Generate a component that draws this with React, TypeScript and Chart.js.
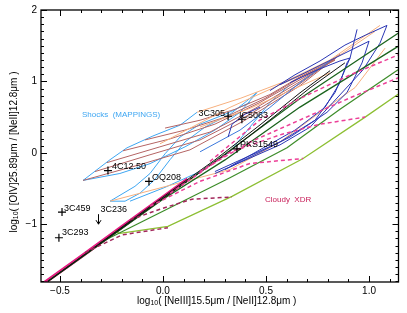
import React, { useEffect, useRef } from "react";
import { Chart, registerables } from "chart.js";

Chart.register(...registerables);

type Pt = [number, number];

// ---------- axes ----------
const X_MIN = -0.592;
const X_MAX = 1.143;
const Y_MIN = -1.81;
const Y_MAX = 2.0;
const xTickValues = [-0.5, 0, 0.5, 1.0];
const xTickLabels = ["\u22120.5", "0.0", "0.5", "1.0"];
const yTickValues = [-1, 0, 1, 2];
const yTickLabels = ["\u22121", "0", "1", "2"];
const minorStep = 0.1;

// ---------- Shock models (MAPPINGS) ----------
const shockCyan1: Pt[] = [[-0.388, -0.387], [-0.257, -0.097], [-0.175, 0.069], [-0.049, 0.235], [0.083, 0.387], [0.165, 0.567]];
const shockCyan2: Pt[] = [[-0.388, -0.387], [-0.209, -0.29], [-0.063, -0.152], [0.107, 0.083], [0.252, 0.318], [0.374, 0.567], [0.456, 0.844]];
const shockCyan3: Pt[] = [[0.456, 0.844], [0.398, 0.705], [0.325, 0.539], [0.204, 0.36], [0.107, 0.152], [0.034, -0.097], [-0.039, -0.373], [-0.112, -0.567], [-0.184, -0.678], [-0.257, -0.678]];
const shockCyan4: Pt[] = [[-0.257, -0.678], [-0.136, -0.47], [-0.063, -0.29], [0.01, -0.014], [0.083, 0.221], [0.18, 0.401], [0.301, 0.539], [0.422, 0.705]];
const shockCyan5: Pt[] = [[-0.16, -0.678], [0.01, -0.484], [0.18, -0.263], [0.325, 0.014], [0.422, 0.36], [0.519, 0.705], [0.617, 0.954]];

const shockBrown1: Pt[] = [[-0.388, -0.387], [-0.112, -0.166], [0.131, 0.041], [0.398, 0.456], [0.665, 0.94], [0.859, 1.38]];
const shockBrown2: Pt[] = [[-0.33, -0.263], [-0.063, -0.028], [0.18, 0.18], [0.422, 0.539], [0.665, 0.968], [0.85, 1.36]];
const shockBrown3: Pt[] = [[-0.272, -0.138], [-0.015, 0.083], [0.228, 0.29], [0.447, 0.622], [0.665, 0.996], [0.84, 1.33]];
const shockBrown4: Pt[] = [[-0.194, 0.028], [0.034, 0.194], [0.252, 0.401], [0.471, 0.705], [0.665, 1.024], [0.835, 1.3]];
const shockBrown5: Pt[] = [[-0.087, 0.18], [0.107, 0.318], [0.301, 0.498], [0.495, 0.761], [0.665, 1.051], [0.835, 1.3]];
const shockBrown6: Pt[] = [[0.01, 0.346], [0.18, 0.456], [0.35, 0.609], [0.519, 0.816], [0.665, 1.065], [0.835, 1.314]];

const shockOrange1: Pt[] = [[0.165, 0.567], [0.374, 0.761], [0.602, 1.01], [0.811, 1.3], [1.053, 1.784]];
const shockOrange2: Pt[] = [[-0.015, 0.125], [0.325, 0.636], [0.665, 1.079], [0.859, 1.369], [1.029, 1.701]];
const shockOrange3: Pt[] = [[-0.257, -0.678], [0.034, -0.456], [0.325, -0.235], [0.568, 0.152], [0.762, 0.567], [0.932, 0.913], [1.078, 1.466]];
const shockOrange4: Pt[] = [[0.18, 0.36], [0.422, 0.622], [0.617, 0.871], [0.811, 1.12]];

const shockMidBlue: Pt[] = [[0.18, 0.014], [0.374, 0.318], [0.519, 0.636], [0.665, 0.982], [0.811, 1.286]];

const shockBlue1: Pt[] = [[0.252, -0.263], [0.568, 0.152], [0.738, 0.456], [0.835, 0.844], [0.908, 1.328], [0.942, 1.729]];
const shockBlue2: Pt[] = [[0.252, -0.29], [0.568, 0.111], [0.714, 0.359], [0.825, 0.705], [0.971, 1.162], [1.053, 1.535], [1.087, 1.784], [0.981, 1.646], [0.883, 1.508], [0.762, 1.286], [0.641, 1.093], [0.519, 0.871]];
const shockBlue3: Pt[] = [[0.301, -0.235], [0.617, 0.221], [0.796, 0.567], [0.893, 0.844], [0.966, 1.259], [1.0, 1.563], [0.932, 1.466], [0.835, 1.328], [0.689, 1.12], [0.568, 0.954]];
const shockBlue4: Pt[] = [[0.325, -0.194], [0.641, 0.318], [0.786, 0.636], [0.859, 0.982], [0.893, 1.259], [0.908, 1.328], [0.859, 1.286], [0.738, 1.148], [0.617, 0.982]];
const shockBlue5: Pt[] = [[0.316, 0.22], [0.335, 0.4], [0.398, 0.54], [0.471, 0.64]];

// ---------- Cloudy XDR / photoionization ----------
const trunk: Pt[] = [[-0.575, -1.82], [-0.4, -1.46], [-0.2, -1.04], [0.0, -0.62], [0.12, -0.37]];
const darkGreen1: Pt[] = [[-0.558, -1.8], [0.0, -0.64], [0.277, -0.07], [0.665, 0.76], [1.141, 1.674]];
const darkGreen2: Pt[] = [[-0.558, -1.8], [0.0, -0.65], [0.301, -0.1], [0.665, 0.64], [1.141, 1.49]];
const blackLine1: Pt[] = [[-0.558, -1.8], [0.0, -0.62], [0.252, -0.1], [0.471, 0.39], [0.665, 0.84], [0.811, 1.15]];
const blackLine2: Pt[] = [[-0.558, -1.8], [0.0, -0.64], [0.301, -0.03], [0.519, 0.46], [0.714, 0.91], [0.883, 1.26]];
const greenLine: Pt[] = [[-0.306, -1.26], [-0.015, -0.84], [0.325, -0.35], [0.602, 0.07], [0.859, 0.61], [1.141, 1.162]];
const yellowGreen: Pt[] = [[-0.235, -1.1], [-0.209, -1.13], [0.024, -1.03], [0.335, -0.61], [0.68, -0.08], [0.981, 0.5], [1.141, 0.82]];
const xdrDash1: Pt[] = [[-0.379, -1.4], [-0.199, -1.15], [0.024, -1.05]];
const xdrDash2: Pt[] = [[-0.16, -0.94], [-0.015, -0.79], [0.141, -0.65], [0.335, -0.62]];
const xdrDash3: Pt[] = [[-0.063, -0.75], [0.18, -0.4], [0.422, -0.15], [0.68, -0.08]];
const xdrDash4: Pt[] = [[0.034, -0.57], [0.325, 0.01], [0.578, 0.26], [0.762, 0.4], [0.981, 0.5]];
const xdrDash5: Pt[] = [[0.18, -0.26], [0.422, 0.15], [0.665, 0.46], [0.908, 0.77], [1.141, 1.05]];
const xdrDash6: Pt[] = [[0.228, -0.12], [0.471, 0.46], [0.665, 0.76], [0.908, 1.09], [1.141, 1.37]];

// ---------- observed sources ----------
const sourceNames = ["3C305", "IC5063", "PKS1549", "4C12.50", "OQ208", "3C459", "3C293"];
const sourceX = [0.316, 0.383, 0.359, -0.267, -0.068, -0.49, -0.505];
const sourceY = [0.512, 0.47, 0.055, -0.249, -0.401, -0.83, -1.19];
const limitName = "3C236";
const limitX = -0.316;
const limitYTop = -0.86;
const limitYBottom = -1.0;

// ---------- annotations ----------
const shocksText = "Shocks  (MAPPINGS)";
const shocksPos: Pt = [-0.393, 0.539];
const xdrText = "Cloudy  XDR";
const xdrPos: Pt = [0.495, -0.664];

// ---------- styles ----------
const FONT = "'Liberation Sans', Arial, sans-serif";
const labelStyle = [
  { dx: -3, dy: -3, align: "right" },
  { dx: -3, dy: -4, align: "left" },
  { dx: 3, dy: -4, align: "left" },
  { dx: 4, dy: -4, align: "left" },
  { dx: 3, dy: -4, align: "left" },
  { dx: 2, dy: -4, align: "left" },
  { dx: 3, dy: -5, align: "left" },
];

const C = {
  cyan: "#3ea6f2",
  brown: "#b46464",
  orange: "#f7b07e",
  midBlue: "#3b78dc",
  blue: "#2a36b4",
  darkGreen: "#1c641e",
  black: "#141414",
  green: "#3f8e2c",
  yellowGreen: "#8dbf33",
  pink: "#ec3f97",
  maroon: "#a3285c",
  magenta: "#e41b80",
};

function line(points: Pt[], color: string, width = 1, dash: number[] = []) {
  return {
    data: points.map(([x, y]) => ({ x, y })),
    borderColor: color,
    borderWidth: width,
    borderDash: dash,
    pointRadius: 0,
    fill: false,
    tension: 0,
    showLine: true,
  };
}

function drawLogText(ctx: CanvasRenderingContext2D, rest: string, cx: number, cy: number, size: number) {
  const main = `${size}px ${FONT}`;
  const sub = `${Math.round(size * 0.7)}px ${FONT}`;
  ctx.font = main;
  const w1 = ctx.measureText("log").width;
  const w3 = ctx.measureText(rest).width;
  ctx.font = sub;
  const w2 = ctx.measureText("10").width;
  let x = cx - (w1 + w2 + w3) / 2;
  ctx.textAlign = "left";
  ctx.textBaseline = "middle";
  ctx.font = main;
  ctx.fillText("log", x, cy);
  x += w1;
  ctx.font = sub;
  ctx.fillText("10", x, cy + 2.5);
  x += w2;
  ctx.font = main;
  ctx.fillText(rest, x, cy);
}

const overlay = {
  id: "overlay",
  afterDatasetsDraw(chart: any) {
    const { ctx, chartArea: a, scales } = chart;
    const xs = scales.x;
    const ys = scales.y;
    ctx.save();
    ctx.strokeStyle = "#000";
    ctx.fillStyle = "#000";
    ctx.lineWidth = 1.3;
    ctx.strokeRect(a.left, a.top, a.right - a.left, a.bottom - a.top);
    ctx.lineWidth = 1;
    const seg = (x1: number, y1: number, x2: number, y2: number) => {
      ctx.beginPath();
      ctx.moveTo(x1, y1);
      ctx.lineTo(x2, y2);
      ctx.stroke();
    };
    for (let i = Math.ceil(X_MIN / minorStep); i <= Math.floor(X_MAX / minorStep); i++) {
      const v = i * minorStep;
      const px = Math.round(xs.getPixelForValue(v)) + 0.5;
      const len = i % 5 === 0 ? 6 : 3;
      seg(px, a.bottom, px, a.bottom - len);
      seg(px, a.top, px, a.top + len);
    }
    for (let i = Math.ceil(Y_MIN / minorStep); i <= Math.floor(Y_MAX / minorStep); i++) {
      const v = i * minorStep;
      const py = Math.round(ys.getPixelForValue(v)) + 0.5;
      const len = i % 10 === 0 ? 6 : 3;
      seg(a.left, py, a.left + len, py);
      seg(a.right, py, a.right - len, py);
    }

    // source labels
    ctx.font = `9px ${FONT}`;
    ctx.textBaseline = "middle";
    sourceNames.forEach((n, i) => {
      const px = xs.getPixelForValue(sourceX[i]);
      const py = ys.getPixelForValue(sourceY[i]);
      const st = labelStyle[i];
      ctx.textAlign = st.align as CanvasTextAlign;
      ctx.fillText(n, px + st.dx, py + st.dy);
    });
    // upper limit arrow
    const ax = Math.round(xs.getPixelForValue(limitX)) + 0.5;
    const ay1 = ys.getPixelForValue(limitYTop);
    const ay2 = ys.getPixelForValue(limitYBottom);
    seg(ax, ay1, ax, ay2);
    seg(ax - 2.5, ay2 - 4, ax, ay2);
    seg(ax + 2.5, ay2 - 4, ax, ay2);
    ctx.textAlign = "left";
    ctx.fillText(limitName, ax + 2, ay1 - 5);

    // annotations
    ctx.font = `8px ${FONT}`;
    ctx.fillStyle = C.cyan;
    ctx.fillText(shocksText, xs.getPixelForValue(shocksPos[0]), ys.getPixelForValue(shocksPos[1]));
    ctx.fillStyle = "#c8205a";
    ctx.fillText(xdrText, xs.getPixelForValue(xdrPos[0]), ys.getPixelForValue(xdrPos[1]));

    // axis titles
    ctx.fillStyle = "#000";
    const cx = (a.left + a.right) / 2 - 3;
    drawLogText(ctx, "( [NeIII]15.5\u03bcm / [NeII]12.8\u03bcm )", cx, a.bottom + 19, 10);
    ctx.save();
    ctx.translate(14, (a.top + a.bottom) / 2 + 6);
    ctx.rotate(-Math.PI / 2);
    drawLogText(ctx, "( [OIV]25.89\u03bcm / [NeII]12.8\u03bcm )", 0, 0, 10);
    ctx.restore();
    ctx.restore();
  },
};

export default function App() {
  const ref = useRef<HTMLCanvasElement | null>(null);
  useEffect(() => {
    if (!ref.current) return;
    const layers = [
      line(shockCyan1, C.cyan),
      line(shockCyan2, C.cyan),
      line(shockCyan3, C.cyan),
      line(shockCyan4, C.cyan),
      line(shockCyan5, C.cyan),
      line(shockBrown1, C.brown),
      line(shockBrown2, C.brown),
      line(shockBrown3, C.brown),
      line(shockBrown4, C.brown),
      line(shockBrown5, C.brown),
      line(shockBrown6, C.brown),
      line(shockOrange1, C.orange),
      line(shockOrange2, C.orange),
      line(shockOrange3, C.orange),
      line(shockOrange4, C.orange),
      line(shockMidBlue, C.midBlue),
      line(shockBlue1, C.blue),
      line(shockBlue2, C.blue),
      line(shockBlue3, C.blue),
      line(shockBlue4, C.blue),
      line(shockBlue5, C.blue),
      line(trunk, C.magenta, 3.5),
      line(yellowGreen, C.yellowGreen, 1.3),
      line(greenLine, C.green, 1.3),
      line(darkGreen1, C.darkGreen, 1.3),
      line(darkGreen2, C.darkGreen, 1.3),
      line(blackLine1, C.black, 1),
      line(blackLine2, C.black, 1),
      line(xdrDash1, C.maroon, 1.5, [4, 3]),
      line(xdrDash2, C.maroon, 1.5, [4, 3]),
      line(xdrDash3, C.pink, 1.5, [4, 3]),
      line(xdrDash4, C.pink, 1.5, [4, 3]),
      line(xdrDash5, C.pink, 1.5, [4, 3]),
      line(xdrDash6, C.pink, 1.5, [4, 3]),
      {
        data: sourceX.map((x, i) => ({ x, y: sourceY[i] })),
        showLine: false,
        pointStyle: "cross",
        pointRadius: 4,
        pointBorderWidth: 1.2,
        borderColor: "#000",
        backgroundColor: "#000",
      },
    ];
    const datasets = layers.map((d, i) => ({ ...d, order: layers.length - i }));
    const chart = new Chart(ref.current, {
      type: "line",
      data: { datasets: datasets as any },
      options: {
        responsive: false,
        animation: false,
        devicePixelRatio: 1,
        layout: { padding: { top: 6, right: 8.5, left: 0, bottom: 0 } },
        plugins: { legend: { display: false }, tooltip: { enabled: false } },
        scales: {
          x: {
            type: "linear",
            min: X_MIN,
            max: X_MAX,
            afterBuildTicks: (s: any) => {
              s.ticks = xTickValues.map((v) => ({ value: v }));
            },
            afterFit: (s: any) => {
              s.height = 31;
            },
            ticks: {
              autoSkip: false,
              maxRotation: 0,
              padding: 3,
              color: "#000",
              font: { family: FONT, size: 10 },
              callback: (v: any) => {
                const i = xTickValues.findIndex((t) => Math.abs(t - v) < 1e-6);
                return i >= 0 ? xTickLabels[i] : "";
              },
            },
            grid: { display: false, drawTicks: false },
            border: { display: false },
          },
          y: {
            type: "linear",
            min: Y_MIN,
            max: Y_MAX,
            afterBuildTicks: (s: any) => {
              s.ticks = yTickValues.map((v) => ({ value: v }));
            },
            afterFit: (s: any) => {
              s.width = 41;
            },
            ticks: {
              autoSkip: false,
              padding: 4,
              color: "#000",
              font: { family: FONT, size: 10 },
              callback: (v: any) => {
                const i = yTickValues.findIndex((t) => Math.abs(t - v) < 1e-6);
                return i >= 0 ? yTickLabels[i] : "";
              },
            },
            grid: { display: false, drawTicks: false },
            border: { display: false },
          },
        },
      },
      plugins: [overlay],
    });
    return () => chart.destroy();
  }, []);
  return (
    <div style={{ position: "fixed", left: 0, top: 0, width: 407, height: 313, background: "#fff" }}>
      <canvas ref={ref} width={407} height={313} style={{ display: "block" }} />
    </div>
  );
}
